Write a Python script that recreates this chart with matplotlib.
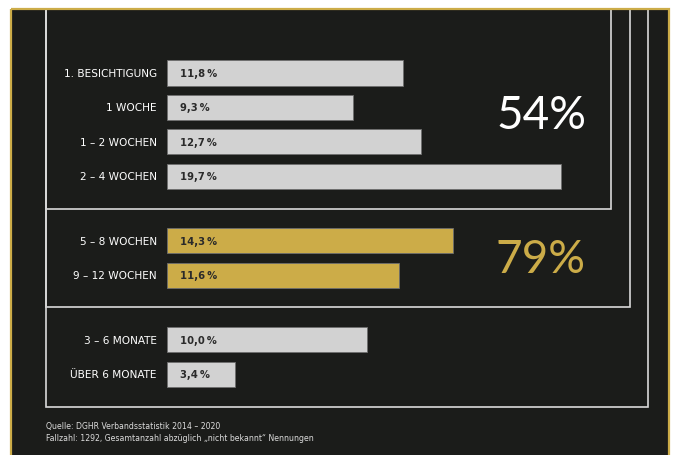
import matplotlib.pyplot as plt
from matplotlib.patches import Rectangle

# data
categories = ['1. BESICHTIGUNG', '1 WOCHE', '1 – 2 WOCHEN', '2 – 4 WOCHEN',
              '5 – 8 WOCHEN', '9 – 12 WOCHEN', '3 – 6 MONATE', 'ÜBER 6 MONATE']
values = [11.8, 9.3, 12.7, 19.7, 14.3, 11.6, 10.0, 3.4]
groups = [0, 0, 0, 0, 1, 1, 2, 2]
group_totals = ['54%', '79%']
source_lines = ['Quelle: DGHR Verbandsstatistik 2014 – 2020',
                'Fallzahl: 1292, Gesamtanzahl abzüglich „nicht bekannt“ Nennungen']

# colours
BG = '#1b1c1a'
GOLD = '#ccac48'
GREY = '#d2d2d2'
LINE = '#d9d9d9'

W, H = 676, 456
fig = plt.figure(figsize=(W / 100, H / 100), dpi=100)
fig.patch.set_facecolor('white')

# background axes in pixel coordinates
bg = fig.add_axes([0, 0, 1, 1])
bg.set_xlim(0, W)
bg.set_ylim(H, 0)
bg.axis('off')
bg.add_patch(Rectangle((11, 10), 658, 460, facecolor=BG, edgecolor=GOLD, lw=1.6,
                       zorder=3, fill=False))
bg.add_patch(Rectangle((11, 10), 658, 460, facecolor=BG, lw=0, zorder=0))

# nested frames (left edge shared, open at the top)
for right, bottom in [(611, 210), (630, 308), (648, 408)]:
    bg.plot([46, 46, right, right], [11, bottom, bottom, 11],
            color=LINE, lw=1.2, solid_joinstyle='miter', zorder=1)

# big totals
bg.text(541, 116, group_totals[0], color='white', fontsize=33, family='Lato',
        ha='center', va='center')
bg.text(541, 260, group_totals[1], color=GOLD, fontsize=33, family='Lato',
        ha='center', va='center')

# footer
for i, line in enumerate(source_lines):
    bg.text(46, 427 + i * 12, line, color='#dddddd', fontsize=5.6,
            family=['Liberation Sans Narrow', 'DejaVu Sans'], va='center')

# bar axes
row = 34.35
gap = 1.884
pos = []
p = 0
for i, g in enumerate(groups):
    if i > 0:
        p += gap if g != groups[i - 1] else 1
    pos.append(p)

x0, x1 = 167, 567
y_top = 74 - row * 0.5
y_bot = 74 + row * (pos[-1] + 0.5)
ax = fig.add_axes([x0 / W, 1 - y_bot / H, (x1 - x0) / W, (y_bot - y_top) / H])
ax.set_xlim(0, 20)
ax.set_ylim(pos[-1] + 0.5, -0.5)
ax.axis('off')

colors = [GOLD if g == 1 else GREY for g in groups]
ax.barh(pos, values, height=0.73, color=colors, edgecolor='#6e6e6e', lw=0.6)

for y, v, c in zip(pos, values, categories):
    ax.text(0.65, y, f'{v:.1f}'.replace('.', ',') + '\u2009%', color='#2a2a2a',
            fontsize=7.2, fontweight='bold', va='center', ha='left',
            family=['Liberation Sans Narrow', 'DejaVu Sans'])
    ax.text(-0.5, y, c, color='white', fontsize=7.6, va='center', ha='right',
            family=['Liberation Sans Narrow', 'DejaVu Sans'], clip_on=False)

fig.savefig('out.png', dpi=100, facecolor=fig.get_facecolor())
